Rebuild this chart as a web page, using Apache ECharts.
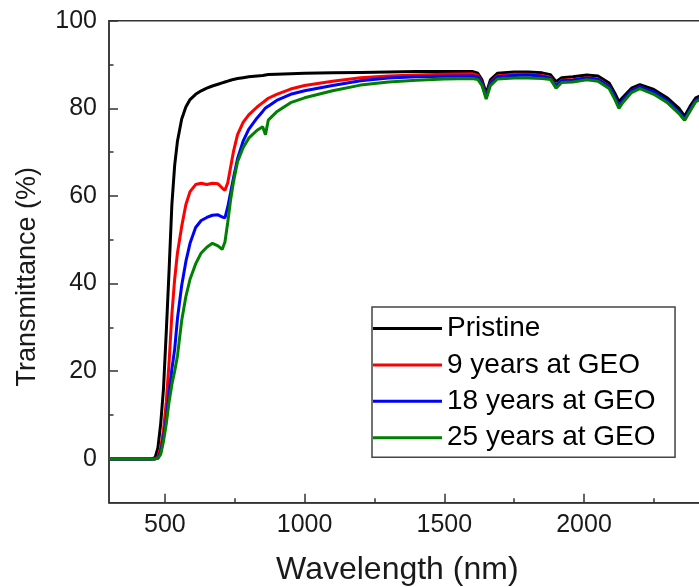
<!DOCTYPE html>
<html>
<head>
<meta charset="utf-8">
<script src="https://cdn.jsdelivr.net/npm/echarts@6/dist/echarts.min.js"></script>
<style>
html,body{margin:0;padding:0;background:#fff;}
#chart{width:699px;height:587px;}
</style>
</head>
<body>
<div id="chart"></div>
<script>
var wavelengths = [300, 400, 450, 465, 475, 485, 495, 505, 515, 525,
  535, 545, 560, 575, 590, 610, 630, 650, 670, 690,
  705, 715, 725, 735, 745, 760, 780, 800, 830, 850,
  860, 870, 900, 950, 1000, 1100, 1200, 1300, 1400, 1500,
  1600, 1620, 1635, 1650, 1665, 1690, 1750, 1800, 1850, 1880,
  1900, 1920, 1960, 2010, 2050, 2090, 2110, 2125, 2140, 2170,
  2200, 2250, 2300, 2340, 2360, 2380, 2400, 2420];

var pristine = [0, 0, 0, 0.3, 2.5, 8, 16, 29, 43, 58,
  67, 72.5, 77.5, 80.3, 82, 83.2, 84, 84.6, 85.1, 85.5,
  85.8, 86, 86.2, 86.4, 86.6, 86.8, 87.0, 87.2, 87.4, 87.5,
  87.6, 87.7, 87.8, 87.9, 88.0, 88.1, 88.2, 88.3, 88.4, 88.4,
  88.4, 88.0, 86.5, 83.4, 86.5, 88.0, 88.3, 88.3, 88.1, 87.7,
  86.1, 87.0, 87.2, 87.6, 87.4, 85.8, 83.5, 81.5, 82.6, 84.6,
  85.4, 84.3, 82.3, 80.0, 78.2, 80.5, 82.4, 83.0];

var geo9 = [0, 0, 0, 0, 0.5, 2.5, 6.5, 13, 22, 33,
  41, 47, 53, 58, 61, 62.6, 62.9, 62.6, 62.9, 62.8,
  61.8, 61.3, 63, 66.5, 70, 74, 76.8, 78.5, 80.3, 81.3,
  81.8, 82.3, 83.2, 84.4, 85.2, 86.2, 87.0, 87.4, 87.6, 87.8,
  87.9, 87.5, 85.8, 82.6, 85.8, 87.4, 87.8, 87.8, 87.5, 87.0,
  85.2, 86.4, 86.5, 87.0, 86.7, 85.0, 82.6, 80.3, 81.8, 84.0,
  84.9, 83.6, 81.4, 79.0, 77.3, 79.6, 81.8, 82.5];

var geo18 = [0, 0, 0, 0, 0.2, 1.5, 5, 9, 15, 20.5,
  25, 32, 39.5, 45, 49.2, 52.8, 54.4, 55.1, 55.6, 55.7,
  55.2, 55, 57.5, 60.7, 64, 68.5, 72.5, 75.2, 77.8, 79.3,
  80.1, 80.5, 81.8, 83.2, 84.0, 85.2, 86.3, 86.9, 87.2, 87.3,
  87.4, 87.2, 85.6, 82.5, 85.7, 87.2, 87.5, 87.6, 87.3, 86.9,
  85.1, 86.3, 86.4, 86.9, 86.6, 85.0, 82.7, 80.4, 81.9, 84.0,
  84.9, 83.7, 81.6, 79.2, 77.5, 79.8, 81.8, 82.4];

var geo25 = [0, 0, 0, 0, 0.1, 1, 4, 8, 13, 17,
  20, 23.5, 31.5, 37, 41, 44.5, 47, 48.3, 49.2, 48.6,
  47.8, 49.5, 54, 59, 63, 67.8, 71, 73.2, 75, 75.8,
  74, 77.3, 79.2, 81.3, 82.4, 84.0, 85.3, 86.0, 86.4, 86.7,
  86.8, 86.6, 85.2, 82.1, 85.2, 86.7, 86.9, 86.9, 86.8, 86.6,
  84.6, 85.9, 86.0, 86.5, 86.2, 84.5, 82.1, 80.0, 81.4, 83.6,
  84.5, 83.2, 81.2, 78.8, 77.3, 79.4, 81.5, 82.2];

var seriesNames = ['Pristine', '9 years at GEO', '18 years at GEO', '25 years at GEO'];
var seriesColors = ['#000000', '#ff0000', '#0000ff', '#008000'];
var seriesValues = [pristine, geo9, geo18, geo25];

var xMajorTicks = [500, 1000, 1500, 2000];
var xMinorTicks = [750, 1250, 1750, 2250];
var yMajorTicks = [0, 20, 40, 60, 80, 100];
var yMinorTicks = [10, 30, 50, 70, 90];

var FONT = '"Liberation Sans", Arial, sans-serif';
var AXIS_COLOR = '#333333';

var chart = echarts.init(document.getElementById('chart'), null, {renderer: 'canvas'});

var series = seriesNames.map(function (name, k) {
  return {
    name: name,
    type: 'line',
    xAxisIndex: 0,
    yAxisIndex: 0,
    symbol: 'none',
    smooth: false,
    color: seriesColors[k],
    lineStyle: {color: seriesColors[k], width: 3},
    data: wavelengths.map(function (w, i) { return [w, seriesValues[k][i]]; })
  };
});

function plain(v) { return String(v); }

var option = {
  animation: false,
  backgroundColor: '#ffffff',
  grid: {
    left: 109, top: 20.7, right: -24.7, bottom: 84.3,
    outerBoundsMode: 'none',
    containLabel: false,
    show: true, borderColor: AXIS_COLOR, borderWidth: 1.5, backgroundColor: 'transparent'
  },
  legend: {
    data: seriesNames,
    orient: 'vertical',
    left: 372, top: 307,
    icon: 'rect',
    itemWidth: 69, itemHeight: 3, itemGap: 0.4,
    padding: [3.5, 19.5, 1.5, 1],
    borderColor: '#444444', borderWidth: 1.5,
    backgroundColor: '#ffffff',
    textStyle: {fontFamily: FONT, fontSize: 28, lineHeight: 36, color: '#000000'}
  },
  xAxis: [{
    type: 'value', min: 300, max: 2500, position: 'bottom',
    axisLine: {show: true, onZero: false, lineStyle: {color: AXIS_COLOR, width: 1.5}},
    axisTick: {show: true, inside: true, length: 9, customValues: xMajorTicks, lineStyle: {color: AXIS_COLOR, width: 1.5}},
    axisLabel: {show: true, customValues: xMajorTicks, formatter: plain, fontFamily: FONT, fontSize: 25, color: '#1a1a1a', margin: 10},
    splitLine: {show: false},
    name: 'Wavelength (nm)', nameLocation: 'middle', nameGap: 51,
    nameTextStyle: {fontFamily: FONT, fontSize: 32, color: '#1a1a1a', padding: [0, 38, 0, 0]}
  }, {
    type: 'value', min: 300, max: 2500, position: 'bottom',
    axisLine: {show: false, onZero: false},
    axisTick: {show: true, inside: true, length: 4.5, customValues: xMinorTicks, lineStyle: {color: AXIS_COLOR, width: 1.5}},
    axisLabel: {show: false},
    splitLine: {show: false}
  }],
  yAxis: [{
    type: 'value', min: -10, max: 100, position: 'left',
    axisLine: {show: true, onZero: false, lineStyle: {color: AXIS_COLOR, width: 1.5}},
    axisTick: {show: true, inside: true, length: 9, customValues: yMajorTicks, lineStyle: {color: AXIS_COLOR, width: 1.5}},
    axisLabel: {show: true, customValues: yMajorTicks, formatter: plain, fontFamily: FONT, fontSize: 25, color: '#1a1a1a', margin: 12},
    splitLine: {show: false},
    name: 'Transmittance (%)', nameLocation: 'middle', nameGap: 68, nameRotate: 90,
    nameTextStyle: {fontFamily: FONT, fontSize: 27, color: '#1a1a1a', padding: [0, 30, 0, 0]}
  }, {
    type: 'value', min: -10, max: 100, position: 'left',
    axisLine: {show: false, onZero: false},
    axisTick: {show: true, inside: true, length: 4.5, customValues: yMinorTicks, lineStyle: {color: AXIS_COLOR, width: 1.5}},
    axisLabel: {show: false},
    splitLine: {show: false}
  }],
  series: series
};

chart.setOption(option);
</script>
</body>
</html>
